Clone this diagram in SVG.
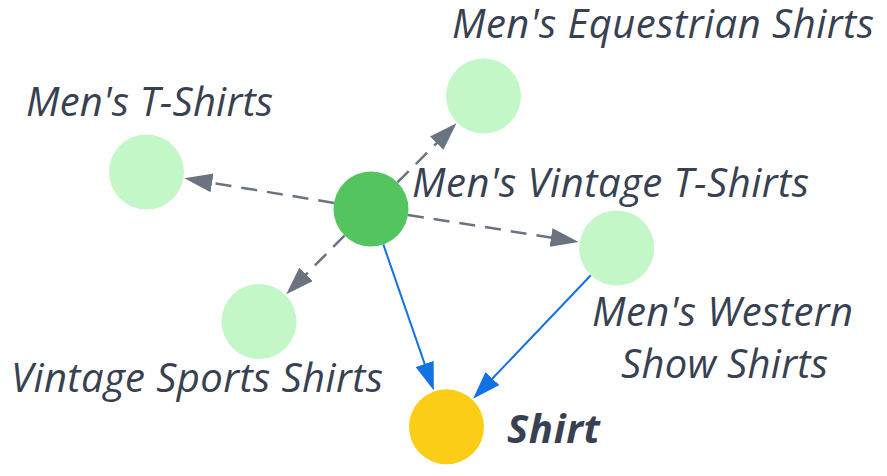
<svg xmlns="http://www.w3.org/2000/svg" width="887" height="476" viewBox="0 0 887 476">
<style>
.lbl{font-family:"Open Sans","Liberation Sans",sans-serif;font-style:italic;font-size:40px;fill:#374151}
.bold{font-weight:700}
.dash{stroke:#6b7280;stroke-width:2.5;stroke-dasharray:16 10;fill:none}
.solid{stroke:#1271e3;stroke-width:2;fill:none}
.light{fill:#c3f7c8}
</style>
<defs>
<marker id="ag" markerUnits="userSpaceOnUse" markerWidth="29" markerHeight="19" refX="1" refY="9.5" orient="auto"><path d="M0,0 L28,9.5 L0,19 z" fill="#6b7280"/></marker>
<marker id="ab" markerUnits="userSpaceOnUse" markerWidth="29" markerHeight="19" refX="1" refY="9.5" orient="auto"><path d="M0,0 L28,9.5 L0,19 z" fill="#1271e3"/></marker>
</defs>
<rect width="887" height="476" fill="#ffffff"/>
<g id="connectors">
<line class="dash" x1="334.0" y1="202.9" x2="211.1" y2="182.7" marker-end="url(#ag)"/>
<line class="dash" x1="397.4" y1="182.4" x2="437.4" y2="142.4" marker-end="url(#ag)"/>
<line class="dash" x1="408.0" y1="214.9" x2="552.0" y2="237.7" marker-end="url(#ag)"/>
<line class="dash" x1="344.5" y1="235.6" x2="305.3" y2="275.1" marker-end="url(#ag)"/>
<line class="solid" x1="383.3" y1="244.4" x2="425.0" y2="364.9" marker-end="url(#ab)"/>
<line class="solid" x1="590.8" y1="275.2" x2="491.7" y2="379.3" marker-end="url(#ab)"/>
</g>
<g id="node-tshirts">
<circle class="light" cx="146.5" cy="172" r="37.5"/>
<text class="lbl" x="26" y="116" textLength="247">Men's T-Shirts</text>
</g>
<g id="node-equestrian">
<circle class="light" cx="483.5" cy="96" r="37.5"/>
<text class="lbl" x="452" y="38" textLength="422">Men's Equestrian Shirts</text>
</g>
<g id="node-western">
<circle class="light" cx="616.7" cy="248" r="37.5"/>
<text class="lbl" x="592" y="326" textLength="261">Men's Western</text>
<text class="lbl" x="621" y="378" textLength="207">Show Shirts</text>
</g>
<g id="node-sports">
<circle class="light" cx="259" cy="321.5" r="37.5"/>
<text class="lbl" x="11" y="392" textLength="372">Vintage Sports Shirts</text>
</g>
<g id="node-vintage">
<circle cx="371" cy="209" r="37.5" fill="#53c45e"/>
<text class="lbl" x="412" y="197" textLength="397">Men's Vintage T-Shirts</text>
</g>
<g id="node-shirt">
<circle cx="446.5" cy="426.8" r="37.5" fill="#fccd17"/>
<text class="lbl bold" x="507" y="443" textLength="93">Shirt</text>
</g>
</svg>
